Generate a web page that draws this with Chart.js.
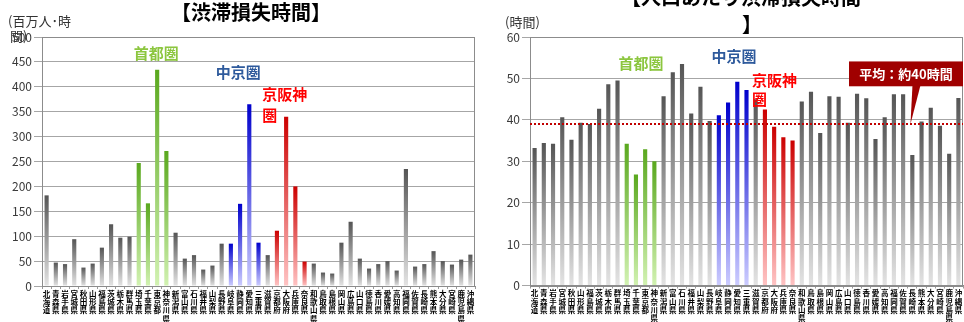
<!DOCTYPE html>
<html>
<head>
<meta charset="utf-8">
<script src="https://cdn.jsdelivr.net/npm/chart.js@4"></script>
<style>
  html, body { margin: 0; padding: 0; background: #fff; }
  .wrap { position: absolute; top: 0; height: 322px; }
</style>
</head>
<body>
<div class="wrap" style="left:0;width:480px"><canvas id="lossChart"></canvas></div>
<div class="wrap" style="left:480px;width:484px"><canvas id="perCapitaChart"></canvas></div>
<script>
const prefectures = ['北海道','青森県','岩手県','宮城県','秋田県','山形県','福島県','茨城県','栃木県','群馬県',
  '埼玉県','千葉県','東京都','神奈川県','新潟県','富山県','石川県','福井県','山梨県','長野県',
  '岐阜県','静岡県','愛知県','三重県','滋賀県','京都府','大阪府','兵庫県','奈良県','和歌山県',
  '鳥取県','島根県','岡山県','広島県','山口県','徳島県','香川県','愛媛県','高知県','福岡県',
  '佐賀県','長崎県','熊本県','大分県','宮崎県','鹿児島県','沖縄県'];

// 渋滞損失時間 (百万人・時間)
const lossHours = [182,47,44,94,37,45,77,124,97,99,
  247,166,434,271,107,55,62,33,41,85,
  85,165,365,87,62,111,340,200,49,45,
  27,25,87,129,55,35,44,50,31,235,
  39,44,70,50,43,53,63];

// 人口あたり渋滞損失時間 (時間)
const perCapitaHours = [33.2,34.4,34.2,40.6,35.2,39.3,39.0,42.7,48.6,49.5,
  34.2,26.8,32.9,30.0,45.7,51.5,53.5,41.5,48.0,39.7,
  41.1,44.2,49.2,47.2,45.0,42.5,38.3,35.8,35.0,44.4,
  46.8,36.8,45.7,45.6,39.3,46.3,45.2,35.4,40.6,46.2,
  46.2,31.5,39.6,42.9,38.6,31.8,45.3];
const averageHours = 39;

const shutoken = ['埼玉県','千葉県','東京都','神奈川県'];
const chukyo = ['岐阜県','静岡県','愛知県','三重県'];
const keihanshin = ['京都府','大阪府','兵庫県','奈良県'];

const FONT = "'Noto Sans CJK JP', 'Noto Sans', sans-serif";

function barColors(name) {
  if (shutoken.includes(name)) return ['#5aa81e', '#d2f2b2'];
  if (chukyo.includes(name)) return ['#0000cc', '#ccccff'];
  if (keihanshin.includes(name)) return ['#cc0000', '#ffc4c4'];
  return ['#555555', '#e4e4e4'];
}

// vertical gradient along each bar, dark top -> light bottom
function gradientFill(ctx) {
  const chart = ctx.chart;
  const cols = barColors(prefectures[ctx.dataIndex]);
  if (!chart.chartArea || ctx.raw === undefined) return cols[0];
  const y = chart.scales.y;
  const top = y.getPixelForValue(ctx.raw);
  const bot = y.getPixelForValue(0);
  if (!isFinite(top) || !isFinite(bot) || top === bot) return cols[0];
  const g = chart.ctx.createLinearGradient(0, top, 0, bot);
  g.addColorStop(0, cols[0]);
  g.addColorStop(1, cols[1]);
  return g;
}

function drawText(c, text, x, y, font, color, align) {
  c.save();
  c.font = font;
  c.fillStyle = color;
  c.textAlign = align || 'center';
  c.textBaseline = 'middle';
  c.fillText(text, x, y);
  c.restore();
}

// frame + labels drawn through the scales
const decorations = {
  id: 'decorations',
  afterDatasetsDraw(chart, args, opts) {
    const c = chart.ctx, a = chart.chartArea;
    const xs = chart.scales.x, ys = chart.scales.y;
    c.save();
    c.strokeStyle = '#8c8c8c';
    c.lineWidth = 1;
    c.strokeRect(Math.round(a.left) + 0.5, Math.round(a.top) + 0.5, Math.round(a.right - a.left) - 1, Math.round(a.bottom - a.top));
    c.restore();

    if (opts.average !== undefined) {
      const ay = ys.getPixelForValue(opts.average);
      c.save();
      c.strokeStyle = '#c00000';
      c.lineWidth = 2;
      c.setLineDash([2, 2]);
      c.beginPath();
      c.moveTo(a.left, ay);
      c.lineTo(a.right, ay);
      c.stroke();
      c.restore();
    }

    (opts.labels || []).forEach(l => {
      drawText(c, l.text, xs.getPixelForValue(l.index), ys.getPixelForValue(l.value),
        'bold 15px ' + FONT, l.color, l.align);
    });

    if (opts.callout) {
      const co = opts.callout;
      const right = a.right;
      const left = right - 114;
      const top = ys.getPixelForValue(co.top), bottom = ys.getPixelForValue(co.bottom);
      const tipX = xs.getPixelForValue(co.tipIndex), tipY = ys.getPixelForValue(opts.average);
      c.save();
      c.fillStyle = '#a00000';
      c.fillRect(left, top, right - left, bottom - top);
      c.beginPath();
      c.moveTo(tipX + 2, bottom - 1);
      c.lineTo(tipX + 10, bottom - 1);
      c.lineTo(tipX, tipY);
      c.closePath();
      c.fill();
      c.restore();
      drawText(c, co.text, (left + right) / 2, (top + bottom) / 2, 'bold 13px ' + FONT, '#ffffff');
    }

    (opts.texts || []).forEach(t => drawText(c, t.text, t.x, t.y, t.font, t.color || '#000', t.align));
  }
};

function makeChart(id, values, cfg) {
  return new Chart(document.getElementById(id), {
    type: 'bar',
    data: {
      labels: prefectures.map(p => p.split('')),
      datasets: [{
        data: values,
        backgroundColor: gradientFill,
        borderWidth: 0,
        barPercentage: 0.45,
        categoryPercentage: 1
      }]
    },
    options: {
      responsive: true,
      maintainAspectRatio: false,
      animation: false,
      layout: { padding: { top: cfg.top, right: cfg.right, left: 0, bottom: 0 } },
      plugins: {
        legend: { display: false },
        tooltip: { enabled: false },
        decorations: cfg.decor
      },
      scales: {
        x: {
          afterFit: s => { s.height = cfg.xHeight; },
          grid: { drawOnChartArea: false, tickLength: 3, color: '#999' },
          border: { color: '#8c8c8c' },
          ticks: {
            autoSkip: false, maxRotation: 0, minRotation: 0, padding: 1,
            color: '#000',
            font: { family: FONT, size: 7.5, weight: 'bold', lineHeight: 1.1 }
          }
        },
        y: {
          min: 0, max: cfg.max,
          afterFit: s => { s.width = cfg.yWidth; },
          grid: { color: '#a6a6a6', tickLength: 8 },
          border: { color: '#868686' },
          ticks: {
            stepSize: cfg.step, padding: 2, color: '#3a3a3a',
            font: { family: FONT, size: 12 }
          }
        }
      }
    },
    plugins: [decorations]
  });
}

makeChart('lossChart', lossHours, {
  max: 500, step: 50, top: 37, right: 5, yWidth: 42, xHeight: 36,
  decor: {
    labels: [
      { text: '首都圏', index: 11.9, value: 468, color: '#8cc63f' },
      { text: '中京圏', index: 20.8, value: 430, color: '#2e5a9c' },
      { text: '京阪神', index: 23.4, value: 384, color: '#ff0000', align: 'left' },
      { text: '圏', index: 23.4, value: 343, color: '#ff0000', align: 'left' }
    ],
    texts: [
      { text: '【渋滞損失時間】', x: 251, y: 12, font: 'bold 20px ' + FONT },
      { text: '(百万人･時', x: 8, y: 21, font: '13px ' + FONT, color: '#333', align: 'left' },
      { text: '間)', x: 10, y: 36, font: '13px ' + FONT, color: '#333', align: 'left' }
    ]
  }
});

makeChart('perCapitaChart', perCapitaHours, {
  max: 60, step: 10, top: 37, right: 1, yWidth: 50, xHeight: 36.5,
  decor: {
    average: averageHours,
    labels: [
      { text: '首都圏', index: 11.55, value: 53.6, color: '#8cc63f' },
      { text: '中京圏', index: 21.65, value: 55.3, color: '#2e5a9c' },
      { text: '京阪神', index: 23.6, value: 49.5, color: '#ff0000', align: 'left' },
      { text: '圏', index: 23.6, value: 44.9, color: '#ff0000', align: 'left' }
    ],
    callout: { text: '平均：約40時間', top: 54.1, bottom: 48.1, tipIndex: 40.8 },
    texts: [
      { text: '【人口あたり渋滞損失時間', x: 261, y: -3, font: 'bold 20px ' + FONT },
      { text: '】', x: 272, y: 24, font: 'bold 20px ' + FONT },
      { text: '(時間)', x: 25, y: 22, font: '13px ' + FONT, color: '#333', align: 'left' }
    ]
  }
});
</script>
</body>
</html>
